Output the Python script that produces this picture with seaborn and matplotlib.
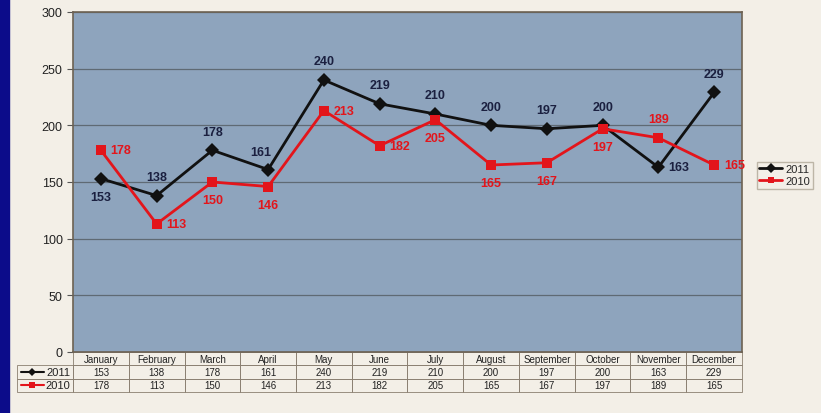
import numpy as np
import pandas as pd
import seaborn as sns
import matplotlib.pyplot as plt
from matplotlib.patches import Rectangle
from matplotlib.lines import Line2D

months = ["January", "February", "March", "April", "May", "June", "July",
          "August", "September", "October", "November", "December"]
vals_2011 = [153, 138, 178, 161, 240, 219, 210, 200, 197, 200, 163, 229]
vals_2010 = [178, 113, 150, 146, 213, 182, 205, 165, 167, 197, 189, 165]

# where each value label sits relative to its point
pos_2011 = ["below", "above", "above", "aboveleft", "above", "above",
            "above", "above", "above", "above", "right", "above"]
pos_2010 = ["right", "right", "below", "below", "right", "right",
            "below", "below", "below", "below", "above", "right"]

df = pd.DataFrame({
    "month": months * 2,
    "x": list(range(12)) * 2,
    "value": vals_2011 + vals_2010,
    "year": ["2011"] * 12 + ["2010"] * 12,
})

sns.set_style("white")
plt.rcParams["font.family"] = ["Liberation Sans", "DejaVu Sans"]

fig = plt.figure(figsize=(8.21, 4.14), dpi=100)
fig.patch.set_facecolor("#f3efe7")
fig.patches.append(Rectangle((0, 0), 9 / 821, 1, transform=fig.transFigure,
                             color="#0c0c8a", zorder=10))

ax = fig.add_axes([73 / 821, 1 - 353 / 414, 669 / 821, 340 / 414])
ax.set_facecolor("#8ea4bd")

palette = {"2011": "#111111", "2010": "#e3151b"}
markers = {"2011": "D", "2010": "s"}
sns.lineplot(data=df, x="x", y="value", hue="year", style="year",
             palette=palette, markers=markers, dashes=False, linewidth=2,
             markersize=7, markeredgewidth=0, ax=ax, legend=False,
             hue_order=["2011", "2010"], zorder=3)

offsets = {"above": (0, 9, "center", "bottom"),
           "below": (0, -9, "center", "top"),
           "right": (7, 0, "left", "center"),
           "aboveleft": (2, 8, "right", "bottom")}
for vals, poss, col in [(vals_2011, pos_2011, "#1b2040"),
                        (vals_2010, pos_2010, "#e3151b")]:
    for i, (v, p) in enumerate(zip(vals, poss)):
        dx, dy, ha, va = offsets[p]
        ax.annotate(str(v), (i, v), xytext=(dx, dy), textcoords="offset points",
                    ha=ha, va=va, fontsize=9, fontweight="bold", color=col)

ax.set_xlim(-0.5, 11.5)
ax.set_ylim(0, 300)
ax.set_yticks(range(0, 301, 50))
ax.yaxis.grid(True, color="#5f6a74", linewidth=0.9)
ax.set_axisbelow(True)
ax.set_xticks([])
ax.set_xlabel("")
ax.set_ylabel("")
ax.tick_params(axis="y", length=4, left=True, labelsize=9, color="#555555",
               labelcolor="#222222")
for s in ax.spines.values():
    s.set_color("#6d6253")
    s.set_linewidth(1.2)

# data table under the chart
cell_text = [[""] + months,
             ["2011"] + [str(v) for v in vals_2011],
             ["2010"] + [str(v) for v in vals_2010]]
w_lab = 56 / 669
tbl = ax.table(cellText=cell_text, cellLoc="center",
               colWidths=[w_lab] + [1 / 12] * 12,
               bbox=[-w_lab, -40 / 340, 1 + w_lab, 40 / 340])
tbl.auto_set_font_size(False)
tbl.set_fontsize(7)
for (r, c), cell in tbl.get_celld().items():
    cell.set_edgecolor("#8a7f70")
    cell.set_linewidth(0.6)
    cell.set_facecolor("none")
    cell.get_text().set_color("#222222")
    if c == 0:
        cell.get_text().set_ha("right")
        cell._loc = "right"
        cell.PAD = 0.05
        cell.get_text().set_fontsize(8)
    if r == 0 and c == 0:
        cell.set_edgecolor("none")

# legend keys inside the table row labels
for row, yr in [(1, "2011"), (2, "2010")]:
    yk = -40 / 340 + (3 - row - 0.5) * (40 / 340) / 3
    ax.plot([-w_lab + 0.006, -w_lab + 0.04], [yk, yk], color=palette[yr],
            lw=1.5, transform=ax.transAxes, clip_on=False)
    ax.plot([-w_lab + 0.023], [yk], marker=markers[yr], color=palette[yr],
            ms=4, mew=0, transform=ax.transAxes, clip_on=False)

handles = [Line2D([], [], color=palette[y], marker=markers[y], lw=2, ms=5, mew=0)
           for y in ["2011", "2010"]]
leg = ax.legend(handles, ["2011", "2010"], loc="center left",
                bbox_to_anchor=(0.022, 0, 1, 1),
                bbox_transform=ax.transAxes, frameon=True, fontsize=8,
                handlelength=2.0, handletextpad=0.3, borderpad=0.25,
                labelspacing=0.15, borderaxespad=0,
                fancybox=False, edgecolor="#b0a898")
leg.set_bbox_to_anchor((1.022, 0.52), transform=ax.transAxes)
leg.get_frame().set_facecolor("#f3efe7")

fig.savefig("out.png", dpi=100, facecolor=fig.get_facecolor())
